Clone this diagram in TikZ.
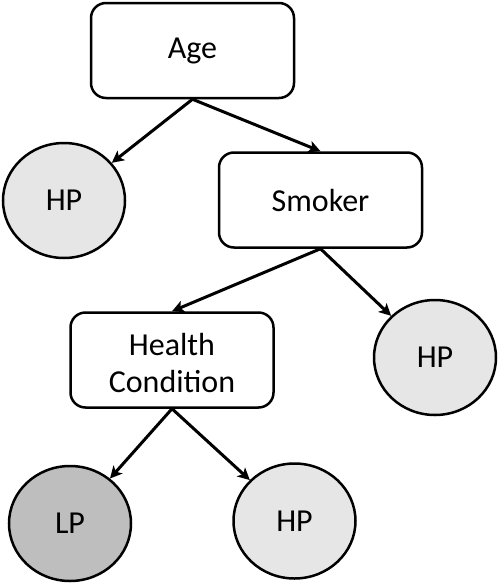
\documentclass[tikz,border=0pt]{standalone}
\usepackage{fontspec}
\setmainfont{Carlito}
\usetikzlibrary{shapes.geometric,arrows.meta}
\definecolor{hpfill}{RGB}{230,230,230}
\definecolor{lpfill}{RGB}{190,190,190}
\begin{document}
\begin{tikzpicture}[x=1pt,y=-1pt,
  every node/.style={font=\fontsize{32}{37}\selectfont},
  boxnode/.style={draw=black,line width=2.5pt,rounded corners=15pt,fill=white,minimum width=203pt,minimum height=95pt,inner sep=0pt,align=center},
  leafnode/.style={ellipse,draw=black,line width=2.5pt,minimum width=122pt,minimum height=115pt,inner sep=0pt},
  hp/.style={leafnode,fill=hpfill},
  lp/.style={leafnode,fill=lpfill},
  conn/.style={line width=3pt,-{Stealth[length=12pt,width=12pt,inset=3pt]}}]
\useasboundingbox (0,0) rectangle (499,584);
\node[boxnode] (age) at (192.5,50.5) {Age};
\node[boxnode] (smoker) at (320.5,200) {Smoker};
\node[boxnode] (health) at (172,360) {\raisebox{-13pt}[0pt][0pt]{\begin{tabular}{@{}c@{}}Health\\Condition\end{tabular}}};
\node[hp] (hp1) at (64,200.5) {HP};
\node[hp] (hp2) at (435,357.5) {HP};
\node[lp] (lp1) at (70,523.5) {LP};
\node[hp] (hp3) at (294.5,521) {HP};
\draw[conn] (age.south) -- (hp1);
\draw[conn] (age.south) -- (smoker.north);
\draw[conn] (smoker.south) -- (health.north);
\draw[conn] (smoker.south) -- (hp2);
\draw[conn] (health.south) -- (lp1);
\draw[conn] (health.south) -- (hp3);
\end{tikzpicture}
\end{document}
